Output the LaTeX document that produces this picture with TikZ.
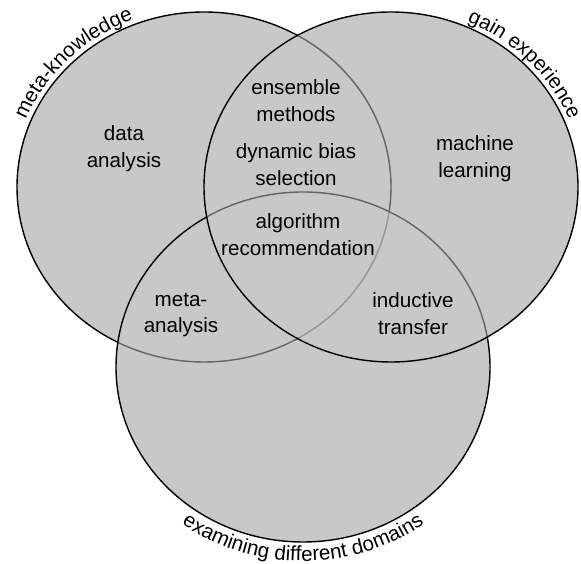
\documentclass[tikz,border=0pt]{standalone}
\usepackage{fontspec}
\setmainfont{Liberation Sans}
\usetikzlibrary{decorations.text}
\definecolor{VennGray}{RGB}{200,200,200}
\newcommand{\vennfont}{\fontsize{17.6}{23}\selectfont}

\begin{document}
\begin{tikzpicture}[x=0.03cm, y=0.03cm,
		zone/.style={align=center, font=\vennfont, inner sep=0pt},
		rim/.style={line width=1.2pt, black},
		veil/.style={fill=VennGray, fill opacity=0.5}]
		\useasboundingbox (0,0) rectangle (581,564);
		\coordinate (know) at (204,377);
		\coordinate (gain) at (391,377);
		\coordinate (dom) at (303,197);
		\foreach \c in {know, gain, dom}{
			\fill[VennGray] (\c) ellipse[x radius=187, y radius=175];
		}
		\draw[rim] (know) ellipse[x radius=187, y radius=175];
		\foreach \c in {dom, gain}{
			\fill[veil] (\c) ellipse[x radius=187, y radius=175];
			\draw[rim] (\c) ellipse[x radius=187, y radius=175];
		}
		\node[zone] (data) at (124,415) {data\\analysis};
		\node[zone] (ensemble) at (296,463) {ensemble\\methods};
		\node[zone] (bias) at (296,399) {dynamic bias\\selection};
		\node[zone] (algo) at (298,329) {algorithm\\recommendation};
		\node[zone] (machine) at (475,405) {machine\\learning};
		\node[zone] (meta) at (181,249) {meta-\\analysis};
		\node[zone] (transfer) at (413,250) {inductive\\transfer};
		\path[decorate, decoration={text along path, text align=center,
			text={|\vennfont|meta-knowledge}}]
			(know) ++(165:192 and 180) arc[start angle=165, end angle=105, x radius=192, y radius=180];
		\path[decorate, decoration={text along path, text align=center,
			text={|\vennfont|gain experience}}]
			(gain) ++(74:192 and 180) arc[start angle=74, end angle=14, x radius=192, y radius=180];
		\path[decorate, decoration={text along path, text align=center,
			text={|\vennfont|examining different domains}}]
			(dom) ++(225:206 and 194) arc[start angle=225, end angle=315, x radius=206, y radius=194];
	\end{tikzpicture}
\end{document}
